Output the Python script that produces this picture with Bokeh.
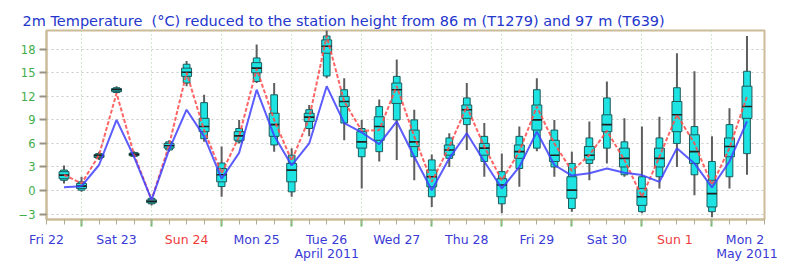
from datetime import datetime
import pandas as pd
from bokeh.plotting import figure
from bokeh.core.properties import value
from bokeh.layouts import column, row
from bokeh.models import Range1d, FixedTicker, ColumnDataSource, CustomJSTickFormatter
from bokeh.embed import file_html
from bokeh.resources import INLINE

# ---------------- data ----------------
times = pd.date_range("2011-04-22 18:00", periods=40, freq="6h")

ens_min = [0.9, -0.17, 3.9, 12.4, 4.2, -1.9, 4.95, 13.3, 6.2, -0.8,
           6.0, 13.7, 4.95, -0.8, 6.9, 14.3, 6.4, 0.26, 3.7, 3.9,
           1.3, -2.1, 3.0, 5.16, 1.75, -2.9, 0.47, 5.0, 1.75, -2.7,
           1.3, 3.45, 1.75, -2.9, 0.26, 3.0, -0.6, -3.4, 0.26, 2.0]
ens_p10 = [1.3, 0.04, 4.1, 12.5, 4.35, -1.7, 5.16, 13.7, 6.6, 0.5,
           6.2, 13.9, 5.8, -0.17, 7.9, 14.6, 8.6, 4.3, 4.95, 9.0,
           4.3, -0.8, 4.1, 8.4, 3.7, -1.7, 2.8, 5.4, 3.0, -2.3,
           3.45, 5.4, 2.0, -2.7, 1.75, 6.0, 2.0, -2.7, 1.75, 4.7]
ens_q25 = [1.5, 0.26, 4.2, 12.6, 4.45, -1.55, 5.4, 14.55, 7.5, 1.1,
           6.4, 15.0, 6.9, 1.1, 8.8, 17.5, 10.7, 5.4, 6.4, 11.1,
           5.6, 0.47, 4.5, 9.2, 4.5, -0.8, 4.1, 7.7, 3.7, -1.0,
           3.9, 7.5, 3.0, -1.9, 3.0, 7.5, 3.45, -2.1, 4.3, 9.2]
ens_med = [1.96, 0.55, 4.44, 12.85, 4.6, -1.37, 5.7, 15.07, 8.15, 2.0,
           6.96, 15.6, 8.4, 2.6, 9.35, 18.4, 11.35, 6.2, 8.15, 12.85,
           6.2, 1.75, 5.16, 10.3, 5.4, 0.7, 4.95, 9.0, 4.5, 0.04,
           4.5, 8.4, 4.1, -0.8, 4.1, 9.65, 4.95, -0.4, 5.6, 10.7]
ens_q75 = [2.4, 0.9, 4.6, 13.0, 4.75, -1.2, 6.0, 15.6, 9.2, 2.8,
           7.5, 16.3, 9.85, 3.45, 9.85, 19.2, 12.0, 7.5, 9.4, 13.7,
           7.7, 2.6, 5.8, 10.9, 6.0, 1.5, 5.8, 10.9, 6.4, 1.75,
           5.6, 9.65, 5.4, 0.26, 5.4, 11.35, 7.1, 1.3, 6.7, 13.3]
ens_p90 = [2.6, 1.1, 4.7, 13.1, 4.85, -1.0, 6.2, 16.1, 11.2, 3.5,
           7.9, 16.9, 12.2, 4.5, 10.3, 19.7, 12.85, 7.9, 10.7, 14.55,
           9.0, 3.9, 6.7, 11.8, 6.9, 2.4, 6.9, 12.85, 7.7, 3.45,
           6.7, 11.8, 6.2, 1.75, 6.7, 13.1, 8.15, 3.7, 8.4, 15.2]
ens_max = [3.2, 1.75, 4.95, 13.3, 5.0, -0.8, 6.4, 16.5, 12.2, 5.6,
           9.0, 18.6, 13.7, 5.4, 10.9, 20.5, 14.3, 9.0, 11.6, 16.7,
           10.3, 4.6, 7.3, 13.7, 8.6, 4.7, 8.15, 14.3, 9.0, 4.95,
           8.8, 13.9, 9.2, 8.15, 9.4, 17.5, 15.2, 6.9, 10.5, 19.7]

t1279 = [2.0, 0.9, 4.5, 12.4, 4.6, -1.2, 5.8, 15.0, 7.7, 2.2,
         6.9, 15.5, 9.0, 3.8, 9.2, 19.7, 11.35, 7.6, 7.7, 13.3,
         6.9, 1.1, 5.6, 10.7, 5.6, 1.3, 4.95, 10.7, 6.0, 2.5,
         4.5, 7.6, 3.9, -0.8, 4.3, 9.65, 6.0, 0.7, 5.4, 12.0]
t639 = [0.4, 0.55, 3.25, 9.0, 4.3, -1.2, 5.2, 10.3, 6.9, 1.5,
        4.8, 12.85, 7.0, 3.2, 6.0, 13.3, 8.6, 7.4, 5.9, 8.8,
        4.3, 0.04, 4.1, 7.3, 3.7, 0.26, 3.0, 7.5, 3.25, 1.9,
        2.2, 2.8, 2.26, 1.96, 1.1, 5.4, 3.45, 0.4, 3.7, 8.8]

y_ticks = [-3, 0, 3, 6, 9, 12, 15, 18]
day_label_times = list(pd.date_range("2011-04-22 12:00", periods=11, freq="24h"))
day_labels = ["Fri 22", "Sat 23", "Sun 24", "Mon 25", "Tue 26", "Wed 27",
              "Thu 28", "Fri 29", "Sat 30", "Sun  1", "Mon  2"]
day_colors = ["#3a3ad6", "#3a3ad6", "#ee3b3b", "#3a3ad6", "#3a3ad6", "#3a3ad6",
              "#3a3ad6", "#3a3ad6", "#3a3ad6", "#ee3b3b", "#3a3ad6"]
month_label_times = [pd.Timestamp("2011-04-26 12:00"), pd.Timestamp("2011-05-02 12:00")]
month_labels = ["April 2011", "May 2011"]
title_text = "2m Temperature \u00a0(\u00b0C) reduced to the station height from 86 m (T1279) and 97 m (T639)"

# ---------------- layout constants ----------------
W, H_MAIN, H_LAB = 800, 232, 45
LEFT, RIGHT, TOP, BOTTOM = 46, 36, 30, 13
x_start = pd.Timestamp("2011-04-22 12:00")
x_end = pd.Timestamp("2011-05-02 18:00")
HOUR = 3600 * 1000.0
epoch = pd.Timestamp("1970-01-01")
to_ms = lambda t: (t - epoch) / pd.Timedelta(milliseconds=1)

# ---------------- main figure ----------------
p = figure(width=W, height=H_MAIN, x_axis_type="datetime",
           x_range=Range1d(to_ms(x_start), to_ms(x_end)), y_range=Range1d(-3.7, 20.4),
           output_backend="svg", toolbar_location=None,
           min_border_left=LEFT, min_border_right=RIGHT, min_border_top=TOP,
           min_border_bottom=BOTTOM)
p.background_fill_color = "white"
p.border_fill_color = "white"
p.outline_line_color = "#cbbb98"
p.outline_line_width = 2

p.title.text = title_text
p.title.text_font = "DejaVu Sans"
p.title.text_font_size = "14.5px"
p.title.text_font_style = "normal"
p.title.text_color = "#2436cc"
p.title.align = "left"
p.title.offset = -24
p.title.standoff = 4

midnights = [to_ms(t) for t in pd.date_range("2011-04-23 00:00", "2011-05-02 00:00", freq="24h")]
six_hours = [to_ms(t) for t in pd.date_range("2011-04-22 12:00", "2011-05-02 18:00", freq="6h")]

xa = p.xaxis[0]
xa.ticker = FixedTicker(ticks=midnights, minor_ticks=six_hours)
xa.formatter = CustomJSTickFormatter(code="return ''")
xa.major_label_text_font_size = "1px"
xa.major_label_standoff = 0
xa.axis_line_color = "#cbbb98"
xa.axis_line_width = 2
xa.major_tick_line_color = "#66bb66"
xa.major_tick_line_width = 2
xa.major_tick_in = 0
xa.major_tick_out = 7
xa.minor_tick_line_color = "#b0a890"
xa.minor_tick_line_width = 1
xa.minor_tick_in = 0
xa.minor_tick_out = 5

ya = p.yaxis[0]
ya.ticker = FixedTicker(ticks=y_ticks)
ya.axis_line_color = "#cbbb98"
ya.axis_line_width = 2
ya.major_tick_line_color = "#9a9282"
ya.major_tick_line_width = 2
ya.major_tick_in = 0
ya.major_tick_out = 7
ya.minor_tick_line_color = None
ya.major_label_text_color = "#3fae49"
ya.major_label_text_font = "DejaVu Sans"
ya.major_label_text_font_size = "11.5px"
ya.major_label_standoff = 4

p.xgrid.grid_line_color = "#9fd49f"
p.xgrid.grid_line_dash = "1 3"
p.ygrid.grid_line_color = "#c8c8c8"
p.ygrid.grid_line_dash = "2 3"

src = ColumnDataSource(dict(t=times, mn=ens_min, p10=ens_p10, q25=ens_q25, md=ens_med,
                            q75=ens_q75, p90=ens_p90, mx=ens_max, red=t1279, blue=t639))

p.segment(x0="t", y0="mn", x1="t", y1="mx", source=src, line_color="#5e5e5e", line_width=2)
p.vbar(x="t", width=2.3 * HOUR, bottom="p10", top="p90", source=src,
       fill_color="#1ee3e3", line_color="#1e5a5a", line_width=1)
p.vbar(x="t", width=3.4 * HOUR, bottom="q25", top="q75", source=src,
       fill_color="#1ee3e3", line_color="#1e5a5a", line_width=1)
p.scatter(x="t", y="md", source=src, marker="dash", size=10,
          line_color="#202020", line_width=1.6)
p.line(x="t", y="red", source=src, line_color="#ff4a4a", line_width=2,
       line_dash="4 2", line_alpha=0.85)
p.line(x="t", y="blue", source=src, line_color="#3f3fff", line_width=2, line_alpha=0.85)

# ---------------- day-label strip (same time scale, frame spans full width) ----------------
ms_per_px = (to_ms(x_end) - to_ms(x_start)) / (W - LEFT - RIGHT)
q = figure(width=W, height=H_LAB,
           x_range=Range1d(to_ms(x_start) - LEFT * ms_per_px, to_ms(x_end) + RIGHT * ms_per_px),
           y_range=Range1d(0, H_LAB), output_backend="svg", toolbar_location=None,
           x_axis_location=None, y_axis_location=None,
           min_border_left=0, min_border_right=0, min_border_top=0, min_border_bottom=0)
q.outline_line_color = None
q.grid.visible = False
q.background_fill_color = "white"
q.border_fill_color = "white"

dsrc = ColumnDataSource(dict(x=[to_ms(t) for t in day_label_times], text=day_labels,
                             color=day_colors))
q.text(x="x", y=H_LAB - 7, text="text", source=dsrc, text_color="color",
       text_align="center", text_baseline="middle",
       text_font=value("DejaVu Sans"), text_font_size=value("12.5px"))
msrc = ColumnDataSource(dict(x=[to_ms(t) for t in month_label_times], text=month_labels))
q.text(x="x", y=H_LAB - 21, text="text", source=msrc, text_color="#3a3ad6",
       text_align="center", text_baseline="middle",
       text_font=value("DejaVu Sans"), text_font_size=value("12.5px"))

layout = column(p, row(q, spacing=0), spacing=0)
open("out.html", "w").write(file_html(layout, INLINE))
